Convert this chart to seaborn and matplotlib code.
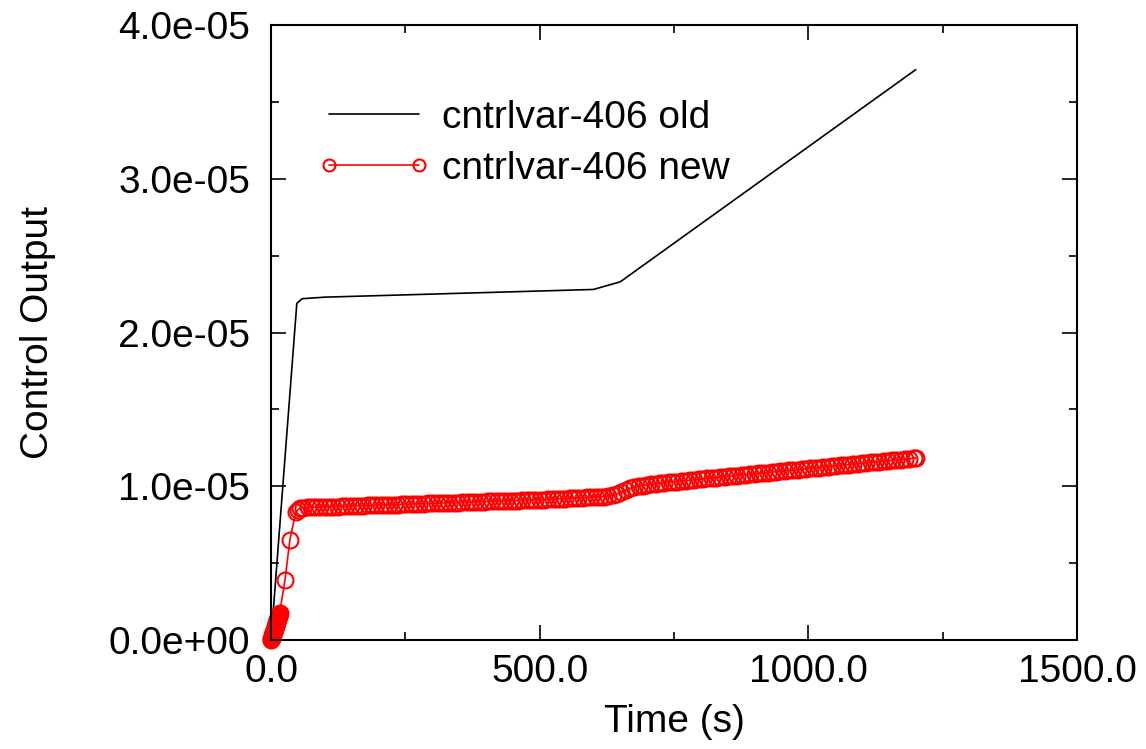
import matplotlib
matplotlib.use("Agg")
import matplotlib.pyplot as plt
import seaborn as sns
import numpy as np
import pandas as pd
from matplotlib.ticker import MultipleLocator, FuncFormatter
from matplotlib.legend_handler import HandlerLine2D

# ---- data ----
old_time = [0.0, 48.0, 58.0, 100.0, 600.0, 650.0, 1200.0]
old_value = [0.0, 2.19e-05, 2.22e-05, 2.23e-05, 2.28e-05, 2.33e-05, 3.71e-05]

new_time = [0, 0.5, 1, 1.5, 2, 2.5, 3, 3.5, 4, 4.5, 5, 5.5, 6, 6.5, 7, 7.5, 8, 8.5,
            9, 9.5, 10, 10.5, 11, 11.5, 12, 12.5, 13, 13.5, 14, 14.5, 15, 15.5, 16,
            26, 35, 46, 50, 54,
            60, 68, 76, 84, 92, 100, 108, 116, 124, 132, 140, 148, 156, 164, 172, 180,
            188, 196, 204, 212, 220, 228, 236, 244, 252, 260, 268, 276, 284, 292, 300,
            308, 316, 324, 332, 340, 348, 356, 364, 372, 380, 388, 396, 404, 412, 420,
            428, 436, 444, 452, 460, 468, 476, 484, 492, 500, 508, 516, 524, 532, 540,
            548, 556, 564, 572, 580, 588, 596, 604, 612, 620, 628,
            636, 644, 652, 660, 668, 676, 684, 692, 700, 708, 716, 724,
            732, 740, 748, 756, 764, 772, 780, 788, 796, 804, 812, 820, 828, 836, 844,
            852, 860, 868, 876, 884, 892, 900, 908, 916, 924, 932, 940, 948, 956, 964,
            972, 980, 988, 996, 1004, 1012, 1020, 1028, 1036, 1044, 1052, 1060, 1068,
            1076, 1084, 1092, 1100, 1108, 1116, 1124, 1132, 1140, 1148, 1156, 1164,
            1172, 1180, 1188, 1196, 1200]
# values in units of 1e-6
new_value_e6 = [0.00, 0.05, 0.10, 0.16, 0.21, 0.27, 0.32, 0.38, 0.43, 0.49, 0.54, 0.60,
                0.65, 0.71, 0.76, 0.82, 0.87, 0.93, 0.98, 1.04, 1.09, 1.15, 1.20, 1.26,
                1.31, 1.37, 1.42, 1.48, 1.53, 1.59, 1.64, 1.70, 1.75,
                3.90, 6.50, 8.30, 8.45, 8.60,
                8.61, 8.62, 8.63, 8.64, 8.64, 8.65, 8.66, 8.67, 8.68, 8.69, 8.70, 8.71,
                8.72, 8.73, 8.74, 8.75, 8.76, 8.77, 8.78, 8.78, 8.79, 8.80, 8.81, 8.82,
                8.83, 8.84, 8.85, 8.86, 8.87, 8.88, 8.89, 8.90, 8.91, 8.92, 8.93, 8.93,
                8.94, 8.95, 8.96, 8.97, 8.98, 8.99, 9.00, 9.01, 9.02, 9.03, 9.04, 9.05,
                9.06, 9.07, 9.07, 9.08, 9.09, 9.10, 9.11, 9.12, 9.13, 9.15, 9.16, 9.18,
                9.19, 9.20, 9.22, 9.23, 9.25, 9.26, 9.27, 9.29, 9.30, 9.32, 9.33, 9.35,
                9.40, 9.50, 9.62, 9.75, 9.86, 9.94, 10.00, 10.05, 10.09, 10.13, 10.17, 10.20,
                10.23, 10.26, 10.29, 10.31, 10.34, 10.37, 10.40, 10.42, 10.45, 10.48, 10.51,
                10.53, 10.56, 10.59, 10.62, 10.64, 10.67, 10.70, 10.73, 10.75, 10.78, 10.81,
                10.84, 10.86, 10.89, 10.92, 10.95, 10.97, 11.00, 11.03, 11.06, 11.08, 11.11,
                11.14, 11.17, 11.19, 11.22, 11.25, 11.28, 11.30, 11.33, 11.36, 11.39, 11.41,
                11.44, 11.47, 11.50, 11.52, 11.55, 11.58, 11.61, 11.63, 11.66, 11.69, 11.72,
                11.74, 11.77, 11.80, 11.83, 11.84]

old_label = "cntrlvar-406 old"
new_label = "cntrlvar-406 new"
x_label = "Time (s)"
y_label = "Control Output"

# ---- style ----
sns.set_style("ticks")
plt.rcParams["font.family"] = ["Liberation Sans", "DejaVu Sans"]
plt.rcParams.update({
    "xtick.direction": "in", "ytick.direction": "in",
    "xtick.top": True, "ytick.right": True,
    "axes.linewidth": 1.5,
    "text.color": "black", "axes.labelcolor": "black",
    "xtick.color": "black", "ytick.color": "black",
    "xtick.labelcolor": "black", "ytick.labelcolor": "black",
    "axes.edgecolor": "black",
})

fig = plt.figure(figsize=(11.46, 7.49), dpi=100)
ax = fig.add_axes([0.2365, 0.1455, 0.7033, 0.8211])

df_old = pd.DataFrame({"t": old_time, "v": old_value})
df_new = pd.DataFrame({"t": new_time, "v": np.array(new_value_e6) * 1e-6})

sns.lineplot(data=df_old, x="t", y="v", ax=ax, color="black", linewidth=1.2,
             sort=False, estimator=None, label=old_label)
sns.lineplot(data=df_new, x="t", y="v", ax=ax, color="red", linewidth=1.2,
             marker="o", markersize=11.5, markerfacecolor="none",
             markeredgecolor="red", markeredgewidth=1.5,
             sort=False, estimator=None, label=new_label, clip_on=False)

ax.set_xlim(0, 1500)
ax.set_ylim(0, 4e-5)
ax.xaxis.set_major_locator(MultipleLocator(500))
ax.xaxis.set_minor_locator(MultipleLocator(250))
ax.yaxis.set_major_locator(MultipleLocator(1e-5))
ax.yaxis.set_minor_locator(MultipleLocator(0.5e-5))
ax.xaxis.set_major_formatter(FuncFormatter(lambda v, p: f"{v:.1f}"))
ax.yaxis.set_major_formatter(FuncFormatter(lambda v, p: f"{v:.1e}"))
ax.tick_params(which="major", length=11, width=1.2, labelsize=28)
ax.tick_params(which="minor", length=6, width=1.2)
ax.tick_params(axis="x", which="major", pad=10)
ax.tick_params(axis="y", which="major", pad=15)

ax.set_xlabel(x_label, fontsize=28, labelpad=10)
ax.set_ylabel(y_label, fontsize=28, labelpad=38)

for s in ax.spines.values():
    s.set_visible(True)
    s.set_linewidth(1.5)

handles, labels = ax.get_legend_handles_labels()
leg = ax.legend(handles, labels, loc="upper left", bbox_to_anchor=(0.072, 0.878),
                frameon=False, fontsize=28, handlelength=2.3, handletextpad=0.6,
                numpoints=2, labelspacing=0.38, borderpad=0, borderaxespad=0,
                markerscale=0.75,
                handler_map={h: HandlerLine2D(marker_pad=0) for h in handles})

fig.savefig("out.png", dpi=100)
